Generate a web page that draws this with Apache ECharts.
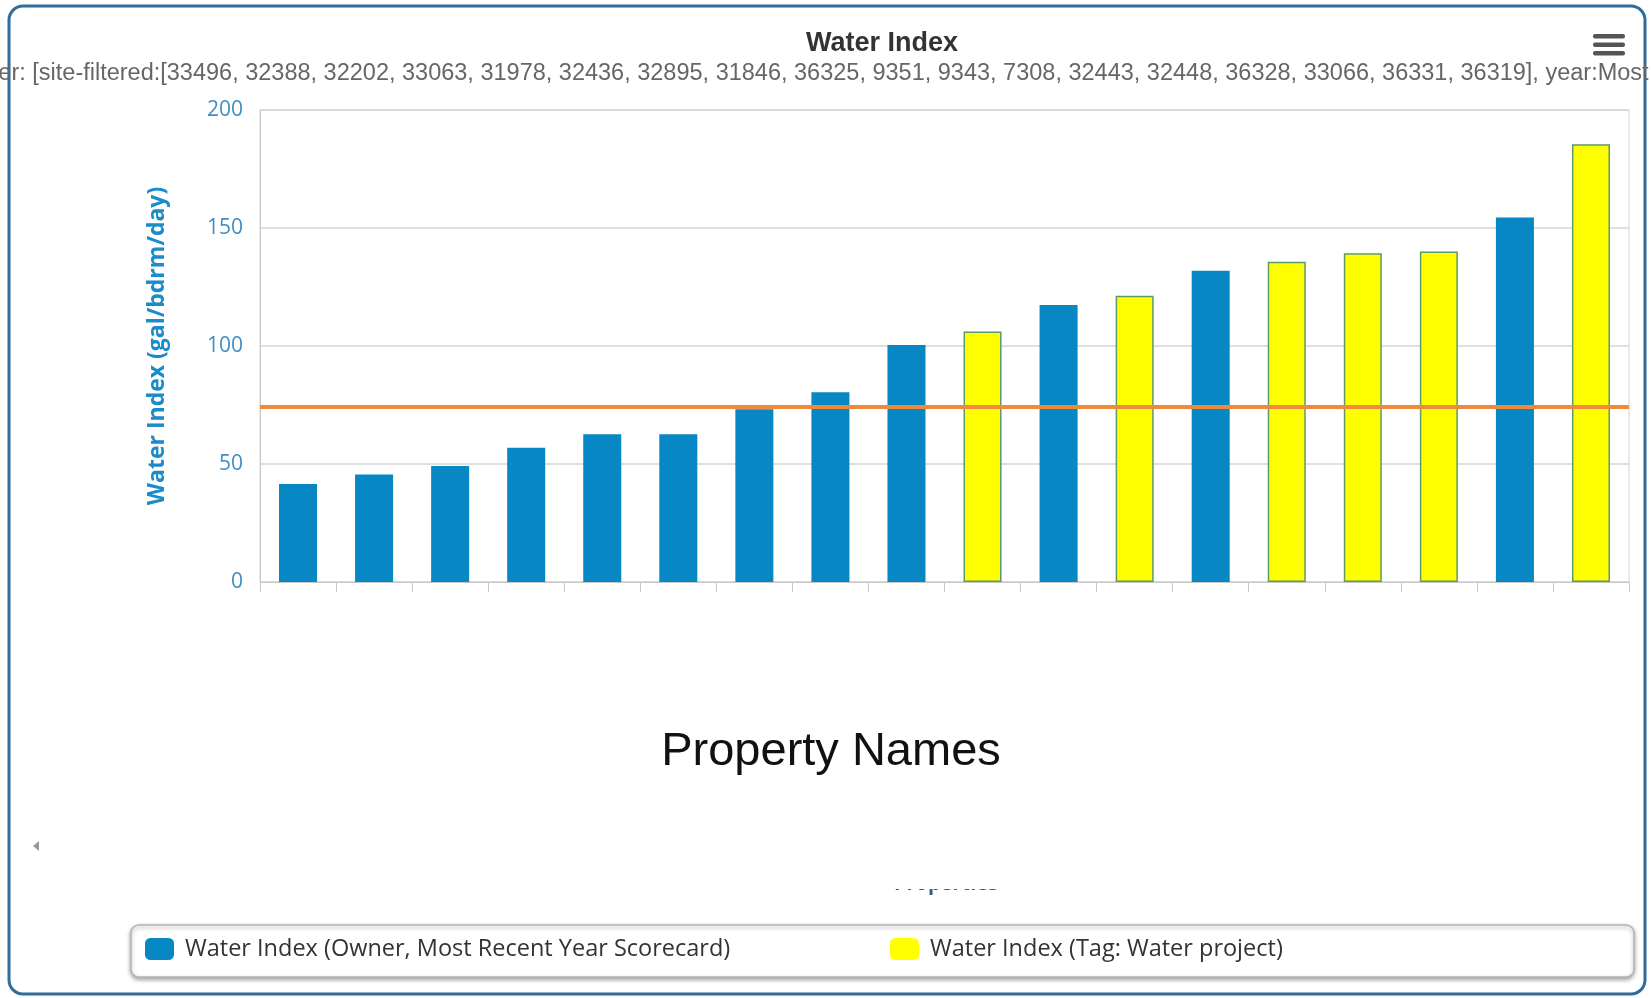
<!DOCTYPE html>
<html>
<head>
<meta charset="utf-8">
<script src="https://cdn.jsdelivr.net/npm/echarts@6/dist/echarts.min.js"></script>
<style>
  html, body { margin: 0; padding: 0; background: #fff; }
  #chart { width: 1651px; height: 998px; }
</style>
</head>
<body>
<div id="chart"></div>
<script>
// Properties (site ids), sorted by water index
const siteIds = ['33496', '32388', '32202', '33063', '31978', '32436', '32895', '31846', '36325',
                 '9351', '9343', '7308', '32443', '32448', '36328', '33066', '36331', '36319'];

// Owner scorecard values (gal/bdrm/day); null where the property is tagged instead
const ownerValues = [41.5, 45.6, 49.2, 56.9, 62.6, 62.6, 73.2, 80.4, 100.4,
                     null, 117.4, null, 131.9, null, null, null, 154.5, null];

// Tagged "Water project" values
const tagValues = [null, null, null, null, null, null, null, null, null,
                   106.1, null, 121.3, null, 135.7, 139.3, 140.0, null, 185.5];

// Reference level drawn across the plot
const benchmark = 74.3;

// Value axis ticks
const yMin = 0, yMax = 200, yStep = 50;

const ownerName = 'Water Index (Owner, Most Recent Year Scorecard)';
const tagName = 'Water Index (Tag: Water project)';
const filterText = 'Filter: [site-filtered:[' + siteIds.join(', ') + '], year:Most Recent Year]';

const chart = echarts.init(document.getElementById('chart'), null, { renderer: 'canvas' });

const legendText = { fontFamily: 'Open Sans', fontSize: 23.5, color: '#333', padding: [0, 0, 0, 6] };

chart.setOption({
  backgroundColor: '#fff',
  animation: false,
  title: {
    text: 'Water Index',
    left: 882,
    textAlign: 'center',
    top: 30,
    padding: 0,
    textStyle: { fontFamily: 'Liberation Sans', fontWeight: 'bold', fontSize: 27, color: '#333' }
  },
  grid: {
    left: 260, right: 22, top: 110, bottom: 416,
    show: true, borderColor: '#d4d4d4', borderWidth: 1, backgroundColor: 'transparent'
  },
  legend: [
    {
      data: [ownerName], left: 145, top: 937, padding: 0,
      itemWidth: 29, itemHeight: 22, itemGap: 10, icon: 'roundRect',
      itemStyle: { borderWidth: 0 },
      textStyle: legendText
    },
    {
      data: [tagName], left: 890, top: 937, padding: 0,
      itemWidth: 29, itemHeight: 22, itemGap: 10, icon: 'roundRect',
      itemStyle: { borderWidth: 0 },
      textStyle: legendText
    }
  ],
  xAxis: {
    type: 'category',
    data: siteIds,
    axisLine: { show: true, lineStyle: { color: '#c8c8c8', width: 1 } },
    axisTick: { show: true, length: 10, lineStyle: { color: '#c8c8c8' } },
    axisLabel: { show: false },
    splitLine: { show: false }
  },
  yAxis: {
    type: 'value',
    min: yMin, max: yMax, interval: yStep,
    name: 'Water Index (gal/bdrm/day)',
    nameLocation: 'middle',
    nameGap: 91,
    nameTextStyle: { fontFamily: 'Open Sans', fontWeight: 'bold', fontSize: 23, color: '#1b8bc9' },
    axisLine: { show: true, lineStyle: { color: '#c8c8c8' } },
    axisTick: { show: false },
    axisLabel: { margin: 17, fontFamily: 'Open Sans', fontSize: 21, color: '#3f8ec4' },
    splitLine: { show: true, lineStyle: { color: '#d4d4d4', width: 1.5 } }
  },
  series: [
    {
      name: ownerName,
      type: 'bar',
      data: ownerValues,
      barWidth: '50%',
      barGap: '-100%',
      itemStyle: { color: '#0788c5' }
    },
    {
      name: tagName,
      type: 'bar',
      data: tagValues,
      barWidth: '50%',
      barGap: '-100%',
      itemStyle: { color: '#ffff00', borderColor: '#5d9a6a', borderWidth: 1.5 },
      markLine: {
        silent: true,
        symbol: 'none',
        z: 10,
        label: { show: false },
        lineStyle: { color: '#ef8a3a', width: 4, type: 'solid' },
        data: [{ yAxis: benchmark }]
      }
    }
  ],
  graphic: [
    // outer panel frame
    {
      type: 'rect', z: -10, silent: true,
      shape: { x: 9, y: 6, width: 1636, height: 988, r: 14 },
      style: { fill: 'transparent', stroke: '#2e6d9c', lineWidth: 3 }
    },
    // filter description line
    {
      type: 'text', silent: true, z: 5,
      x: -33, y: 74,
      style: {
        text: filterText, fill: '#666',
        font: '23.5px "Liberation Sans"', textVerticalAlign: 'middle', textAlign: 'left'
      }
    },
    // menu button
    {
      type: 'group', silent: true, z: 5,
      children: [
        { type: 'rect', shape: { x: 1593, y: 34, width: 32, height: 4.5, r: 2 }, style: { fill: '#555' } },
        { type: 'rect', shape: { x: 1593, y: 42.5, width: 32, height: 4.5, r: 2 }, style: { fill: '#555' } },
        { type: 'rect', shape: { x: 1593, y: 51, width: 32, height: 4.5, r: 2 }, style: { fill: '#555' } }
      ]
    },
    // category axis title
    {
      type: 'text', silent: true, z: 5,
      x: 831, y: 752,
      style: {
        text: 'Property Names', fill: '#111',
        font: '47px "Liberation Sans"', textAlign: 'center', textVerticalAlign: 'middle'
      }
    },
    // scroll hint arrow
    {
      type: 'polygon', silent: true, z: 5,
      shape: { points: [[33, 846], [39, 841], [39, 851]] },
      style: { fill: '#999' }
    },
    // partially hidden axis caption
    {
      type: 'text', silent: true, z: 4,
      x: 946, y: 884,
      style: {
        text: 'Properties', fill: '#3c5a8c',
        font: 'bold 20px "Open Sans"', textAlign: 'center', textVerticalAlign: 'middle'
      }
    },
    {
      type: 'rect', silent: true, z: 4.5,
      shape: { x: 870, y: 850, width: 160, height: 39 },
      style: { fill: '#fff' }
    },
    // legend frame
    {
      type: 'rect', silent: true, z: -5,
      shape: { x: 131, y: 925, width: 1503, height: 52, r: 8 },
      style: {
        fill: '#fff', stroke: '#b4b4b4', lineWidth: 1.5,
        shadowBlur: 4, shadowColor: 'rgba(0,0,0,0.35)', shadowOffsetY: 2
      }
    }
  ]
});
</script>
</body>
</html>
